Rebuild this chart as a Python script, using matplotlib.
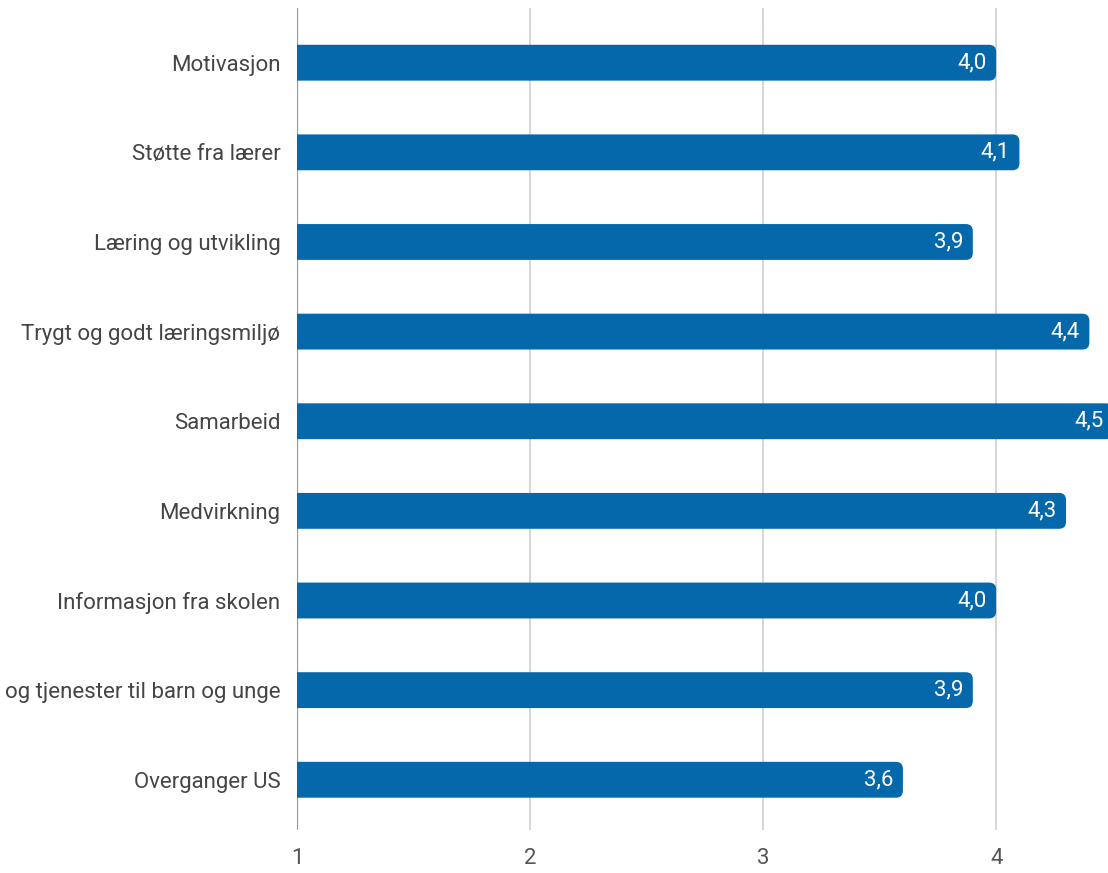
import matplotlib.pyplot as plt
from matplotlib.patches import FancyBboxPatch
import numpy as np

categories = ['Motivasjon', 'Støtte fra lærer', 'Læring og utvikling',
              'Trygt og godt læringsmiljø', 'Samarbeid', 'Medvirkning',
              'Informasjon fra skolen', 'og tjenester til barn og unge',
              'Overganger US']
values = [4.0, 4.1, 3.9, 4.4, 4.5, 4.3, 4.0, 3.9, 3.6]
value_labels = ['4,0', '4,1', '3,9', '4,4', '4,5', '4,3', '4,0', '3,9', '3,6']
xticks = [1, 2, 3, 4]

plt.rcParams['font.family'] = ['Roboto', 'DejaVu Sans']

bar_color = '#0568ab'

fig = plt.figure(figsize=(11.08, 8.73), dpi=100)
ax = fig.add_axes([0.268, 0.0493, 0.732, 0.9415])

y = np.arange(len(categories))
bars = ax.barh(y, values, height=0.4, left=0, color=bar_color, zorder=2)

# swap the plain rectangles for ones with rounded corners
# (left corners fall outside the axes and get clipped)
x_px = 233.0   # pixels per x unit
y_px = 89.6    # pixels per category
for b in bars:
    x0, y0 = b.get_x(), b.get_y()
    w, h = b.get_width(), b.get_height()
    b.set_visible(False)
    r = 7 / x_px
    p = FancyBboxPatch((x0, y0), w, h,
                       boxstyle='round,pad=0,rounding_size=%f' % r,
                       mutation_aspect=x_px / y_px,
                       facecolor=bar_color, edgecolor='none', zorder=2)
    ax.add_patch(p)

for yi, v, lab in zip(y, values, value_labels):
    ax.text(v - 0.04, yi, lab, ha='right', va='center', color='white',
            fontsize=16, zorder=3)

ax.set_xlim(1, 4.48)
ax.set_ylim(len(categories) - 1 + 0.56, -0.61)

ax.set_yticks(y)
ax.set_yticklabels(categories, fontsize=16, color='#454545')
ax.set_xticks(xticks)
ax.set_xticklabels([str(t) for t in xticks], fontsize=16, color='#555555')
ax.tick_params(axis='both', length=0)
ax.tick_params(axis='y', pad=12)
ax.tick_params(axis='x', pad=13)

for t in xticks:
    if t == 1:
        ax.axvline(t, color='#999999', lw=1.6, zorder=1)
    else:
        ax.axvline(t, color='#cfcfcf', lw=1.2, zorder=1)

for s in ax.spines.values():
    s.set_visible(False)

fig.savefig('out.png', dpi=100)
